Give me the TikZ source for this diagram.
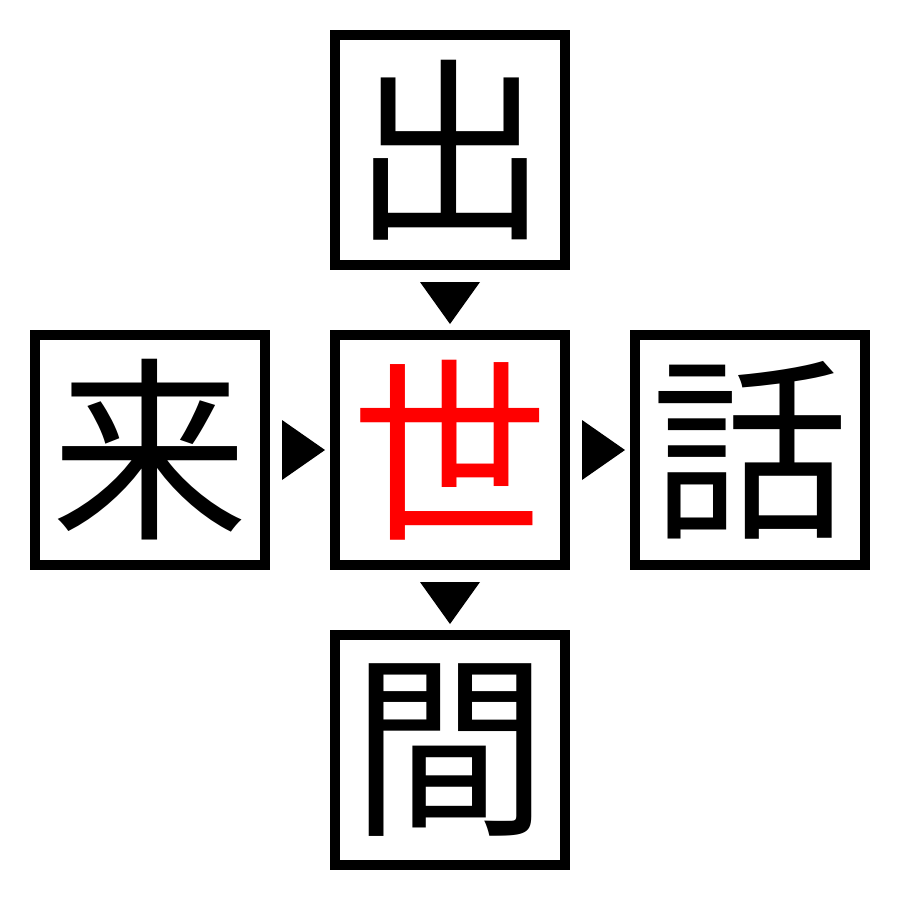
\documentclass[tikz,border=0pt]{standalone}
\usepackage{fontspec}
\newfontfamily\cjk{Noto Sans CJK JP}
\begin{document}
\begin{tikzpicture}[x=0.02cm,y=-0.02cm,
  kbox/.style={draw=black,line width=0.2cm,minimum size=4.6cm,inner sep=0pt,font=\cjk\fontsize{112}{112}\selectfont},
  tri/.style={fill=black,draw=none}]
\useasboundingbox (0,0) rectangle (900,900);
\node[kbox] (t) at (450,150) {出};
\node[kbox,text=red] (c) at (450,450) {世};
\node[kbox] (l) at (150,450) {来};
\node[kbox] (r) at (750,450) {話};
\node[kbox] (b) at (450,750) {間};
\fill[tri] (420,282) -- (480,282) -- (450,324) -- cycle;
\fill[tri] (420,582) -- (480,582) -- (450,624) -- cycle;
\fill[tri] (282,420) -- (282,480) -- (325,450) -- cycle;
\fill[tri] (582,420) -- (582,480) -- (625,450) -- cycle;
\end{tikzpicture}
\end{document}
